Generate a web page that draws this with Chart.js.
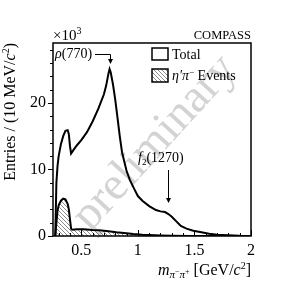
<!DOCTYPE html>
<html>
<head>
<meta charset="utf-8">
<script src="https://cdn.jsdelivr.net/npm/chart.js@4"></script>
<style>
  html, body { margin: 0; padding: 0; background: #fff; }
  canvas { display: block; }
</style>
</head>
<body>
<canvas id="chMass" width="295" height="288"></canvas>
<script>
// m(pi- pi+) spectrum, entries in units of 10^3 per 10 MeV
const totalMass = [0.27, 0.28, 0.29, 0.30, 0.32, 0.34, 0.36, 0.38, 0.39, 0.40, 0.41, 0.43, 0.46, 0.50, 0.55, 0.60, 0.65, 0.70, 0.72, 0.74, 0.75, 0.76, 0.78, 0.80, 0.82, 0.84, 0.86, 0.88, 0.90, 0.93, 0.97, 1.00, 1.04, 1.10, 1.16, 1.20, 1.24, 1.27, 1.30, 1.34, 1.38, 1.43, 1.49, 1.55, 1.63, 1.70, 1.80, 1.90, 2.00];
const totalEntries = [0, 8.0, 10.5, 12.0, 13.8, 15.0, 15.8, 15.9, 15.3, 13.5, 12.4, 12.9, 13.6, 14.4, 15.6, 17.2, 19.1, 21.3, 22.6, 24.4, 25.1, 24.6, 22.8, 20.5, 17.8, 15.0, 12.6, 11.2, 9.8, 8.4, 7.0, 6.0, 5.3, 4.5, 3.9, 3.7, 3.6, 3.3, 2.9, 2.2, 1.5, 1.1, 0.8, 0.6, 0.35, 0.2, 0.1, 0.03, 0];

const etaPiMass = [0.27, 0.28, 0.29, 0.30, 0.32, 0.34, 0.36, 0.38, 0.39, 0.40, 0.41, 0.42, 0.46, 0.52, 0.60, 0.66, 0.74, 0.81, 0.90, 0.96, 1.04, 1.10, 1.20, 1.30, 1.45, 2.00];
const etaPiEntries = [0, 2.0, 3.8, 4.6, 5.3, 5.6, 5.5, 4.8, 4.0, 2.5, 1.1, 0.95, 1.0, 1.0, 0.9, 0.85, 0.7, 0.55, 0.4, 0.3, 0.2, 0.15, 0.08, 0.04, 0.01, 0];

const xMajorTicks = [0.5, 1, 1.5, 2];
const xMinorTicks = [0.3, 0.4, 0.6, 0.7, 0.8, 0.9, 1.1, 1.2, 1.3, 1.4, 1.6, 1.7, 1.8, 1.9];
const yMajorTicks = [0, 10, 20];
const yMinorTicks = [2, 4, 6, 8, 12, 14, 16, 18, 22, 24, 26, 28];

const rhoArrowMass = 0.75;
const f2ArrowMass = 1.265;

const serif = '"Liberation Serif", "DejaVu Serif", serif';

// hatch pattern (ROOT style 3004-ish)
function makeHatch() {
  const c = document.createElement('canvas');
  c.width = 4; c.height = 4;
  const g = c.getContext('2d');
  g.strokeStyle = '#5a5a5a';
  g.lineWidth = 0.7;
  g.beginPath();
  g.moveTo(-1, -1); g.lineTo(5, 5);
  g.moveTo(-1, 3); g.lineTo(1, 5);
  g.moveTo(3, -1); g.lineTo(5, 1);
  g.stroke();
  return g.createPattern(c, 'repeat');
}
const ctx0 = document.getElementById('chMass').getContext('2d');
const hatch = makeHatch();

// mixed-font text runs
function runsWidth(ctx, runs) {
  let w = 0;
  runs.forEach(r => { ctx.font = r.font; w += ctx.measureText(r.t).width; });
  return w;
}
function drawRuns(ctx, x, y, runs, align) {
  let cx = align === 'right' ? x - runsWidth(ctx, runs) : x;
  ctx.textBaseline = 'alphabetic';
  ctx.textAlign = 'left';
  runs.forEach(r => {
    ctx.font = r.font;
    ctx.fillText(r.t, cx, y + (r.dy || 0));
    cx += ctx.measureText(r.t).width;
  });
}
function arrowHead(ctx, x, y) {
  ctx.beginPath();
  ctx.moveTo(x, y);
  ctx.lineTo(x - 2.5, y - 5);
  ctx.lineTo(x + 2.5, y - 5);
  ctx.closePath();
  ctx.fill();
}

const watermark = {
  id: 'watermark',
  beforeDatasetsDraw(chart) {
    const ctx = chart.ctx;
    ctx.save();
    ctx.translate(155, 143);
    ctx.rotate(-47.6 * Math.PI / 180);
    ctx.font = '47px ' + serif;
    ctx.fillStyle = '#d3d3d3';
    ctx.textAlign = 'center';
    ctx.textBaseline = 'middle';
    ctx.fillText('preliminary', 0, 0);
    ctx.restore();
  }
};

const decor = {
  id: 'decor',
  afterDraw(chart) {
    const ctx = chart.ctx;
    const a = chart.chartArea;
    const xs = chart.scales.x, ys = chart.scales.y;
    ctx.save();
    ctx.fillStyle = '#000';
    ctx.strokeStyle = '#000';

    // frame
    ctx.lineWidth = 1.5;
    ctx.strokeRect(a.left, a.top, a.right - a.left, a.bottom - a.top);

    // x ticks (inside)
    ctx.lineWidth = 1;
    ctx.beginPath();
    xMajorTicks.forEach(v => { const p = Math.round(xs.getPixelForValue(v)) + 0.5; ctx.moveTo(p, a.bottom); ctx.lineTo(p, a.bottom - 6); });
    xMinorTicks.forEach(v => { const p = Math.round(xs.getPixelForValue(v)) + 0.5; ctx.moveTo(p, a.bottom); ctx.lineTo(p, a.bottom - 3); });
    // y ticks (outside)
    yMajorTicks.forEach(v => { const p = Math.round(ys.getPixelForValue(v)) + 0.5; ctx.moveTo(a.left, p); ctx.lineTo(a.left - 5, p); });
    yMinorTicks.forEach(v => { const p = Math.round(ys.getPixelForValue(v)) + 0.5; ctx.moveTo(a.left, p); ctx.lineTo(a.left - 3, p); });
    ctx.stroke();

    // x10^3 and COMPASS
    drawRuns(ctx, a.left, 40, [
      { t: '\u00d710', font: '15px ' + serif },
      { t: '3', font: '10px ' + serif, dy: -6 }
    ]);
    ctx.font = '12.5px ' + serif;
    ctx.textAlign = 'right';
    ctx.textBaseline = 'alphabetic';
    ctx.fillText('COMPASS', a.right, 38.5);

    // axis titles
    ctx.save();
    ctx.translate(14.5, a.top);
    ctx.rotate(-Math.PI / 2);
    drawRuns(ctx, 0, 0, [
      { t: 'Entries / (10 MeV/', font: '16px ' + serif },
      { t: 'c', font: 'italic 16px ' + serif },
      { t: '2', font: '10px ' + serif, dy: -6 },
      { t: ')', font: '16px ' + serif }
    ], 'right');
    ctx.restore();

    drawRuns(ctx, a.right, 275, [
      { t: 'm', font: 'italic 16px ' + serif },
      { t: '\u03c0', font: 'italic 11px ' + serif, dy: 3 },
      { t: '\u2212', font: '8px ' + serif, dy: -1 },
      { t: '\u03c0', font: 'italic 11px ' + serif, dy: 3 },
      { t: '+', font: '8px ' + serif, dy: -1 },
      { t: ' [GeV/', font: '16px ' + serif },
      { t: 'c', font: 'italic 16px ' + serif },
      { t: '2', font: '10px ' + serif, dy: -6 },
      { t: ']', font: '16px ' + serif }
    ], 'right');

    // legend
    ctx.lineWidth = 1.5;
    ctx.fillStyle = '#fff';
    ctx.fillRect(152, 48, 16, 12);
    ctx.strokeRect(152, 48, 16, 12);
    ctx.fillStyle = hatch;
    ctx.fillRect(152, 69, 16, 13);
    ctx.strokeRect(152, 69, 16, 13);
    ctx.fillStyle = '#000';
    drawRuns(ctx, 172, 59, [{ t: 'Total', font: '14px ' + serif }]);
    drawRuns(ctx, 172, 79.5, [
      { t: '\u03b7\u2032\u03c0', font: 'italic 14px ' + serif },
      { t: '\u2212', font: '9px ' + serif, dy: -5 },
      { t: ' Events', font: '14px ' + serif }
    ]);

    // rho(770) annotation
    const rx = Math.round(xs.getPixelForValue(rhoArrowMass)) + 0.5;
    drawRuns(ctx, 55, 58, [
      { t: '\u03c1', font: 'italic 14px ' + serif },
      { t: '(770)', font: '14px ' + serif }
    ]);
    ctx.lineWidth = 1;
    ctx.beginPath();
    ctx.moveTo(95, 54.5); ctx.lineTo(rx, 54.5); ctx.lineTo(rx, 59);
    ctx.stroke();
    arrowHead(ctx, rx, 64);

    // f2(1270) annotation
    const fx = Math.round(xs.getPixelForValue(f2ArrowMass)) + 0.5;
    drawRuns(ctx, 138, 162, [
      { t: 'f', font: 'italic 14px ' + serif },
      { t: '2', font: '9px ' + serif, dy: 3 },
      { t: '(1270)', font: '14px ' + serif }
    ]);
    ctx.beginPath();
    ctx.moveTo(fx, 170); ctx.lineTo(fx, 198);
    ctx.stroke();
    arrowHead(ctx, fx, 203);

    ctx.restore();
  }
};

new Chart(document.getElementById('chMass'), {
  type: 'line',
  data: {
    datasets: [
      {
        label: '\u03b7\u2032\u03c0\u2212 Events',
        data: etaPiMass.map((m, i) => ({ x: m, y: etaPiEntries[i] })),
        borderColor: '#000',
        borderWidth: 2,
        backgroundColor: hatch,
        fill: 'origin',
        pointRadius: 0,
        tension: 0
      },
      {
        label: 'Total',
        data: totalMass.map((m, i) => ({ x: m, y: totalEntries[i] })),
        borderColor: '#000',
        borderWidth: 2,
        fill: false,
        pointRadius: 0,
        tension: 0
      }
    ]
  },
  options: {
    responsive: false,
    animation: false,
    layout: { padding: { left: 0, top: 43, right: 44, bottom: 0 } },
    plugins: { legend: { display: false }, tooltip: { enabled: false } },
    scales: {
      x: {
        type: 'linear',
        min: 0.25,
        max: 2,
        grid: { display: false, drawTicks: false },
        border: { display: false },
        afterBuildTicks: s => { s.ticks = xMajorTicks.map(v => ({ value: v })); },
        afterFit: s => { s.height = 52; },
        ticks: {
          padding: 5,
          color: '#000',
          font: { family: serif, size: 16 },
          maxRotation: 0,
          autoSkip: false,
          callback: v => String(v)
        }
      },
      y: {
        type: 'linear',
        min: 0,
        max: 29,
        grid: { display: false, drawTicks: false },
        border: { display: false },
        afterBuildTicks: s => { s.ticks = yMajorTicks.map(v => ({ value: v })); },
        afterFit: s => { s.width = 53; },
        ticks: {
          padding: 7,
          color: '#000',
          font: { family: serif, size: 16 },
          autoSkip: false,
          callback: v => String(v)
        }
      }
    }
  },
  plugins: [watermark, decor]
});
</script>
</body>
</html>
